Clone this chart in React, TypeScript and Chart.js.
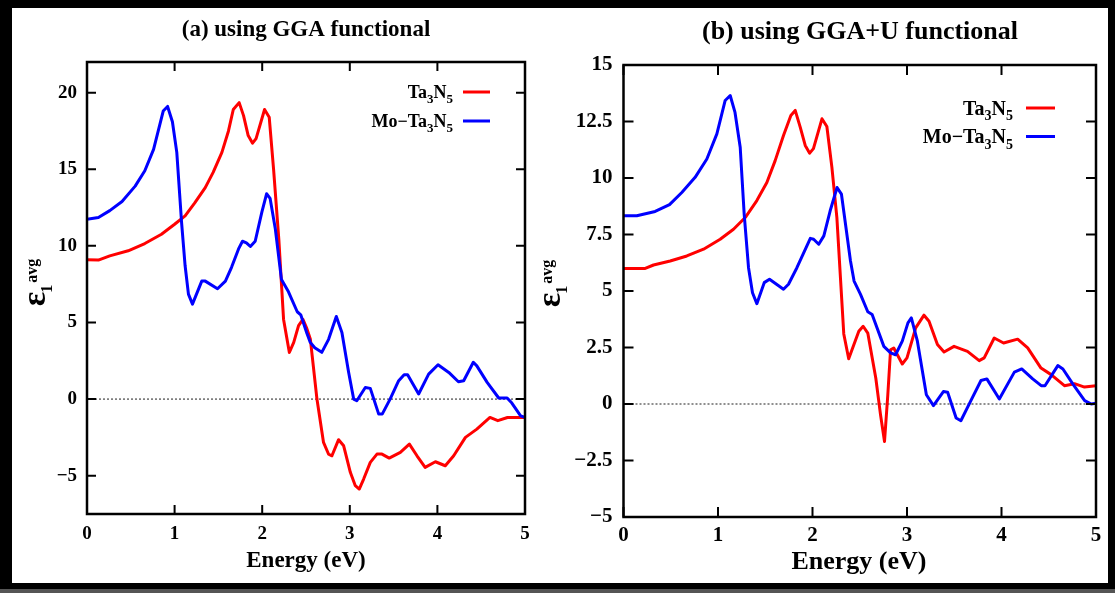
import React, { useEffect, useRef } from 'react';
import { Chart, registerables } from 'chart.js';

Chart.register(...registerables);

// ---------- data ----------
const energyTicks = [0, 1, 2, 3, 4, 5];
const ggaYTicks = [-5, 0, 5, 10, 15, 20];
const ggauYTicks = [-5, -2.5, 0, 2.5, 5, 7.5, 10, 12.5, 15];

// (a) GGA — Ta3N5
const ggaTaE = [0, 0.13, 0.26, 0.47, 0.66, 0.85, 1.0, 1.12, 1.23, 1.35, 1.44, 1.54, 1.615, 1.67, 1.737, 1.787, 1.84, 1.89, 1.93, 2.027, 2.08, 2.13, 2.19, 2.244, 2.31, 2.36, 2.415, 2.465, 2.51, 2.55, 2.625, 2.70, 2.758, 2.796, 2.872, 2.93, 3.006, 3.063, 3.108, 3.158, 3.234, 3.31, 3.367, 3.45, 3.577, 3.68, 3.767, 3.86, 3.977, 4.09, 4.186, 4.32, 4.45, 4.60, 4.69, 4.80, 5.0];
const ggaTaV = [9.09, 9.07, 9.35, 9.68, 10.15, 10.76, 11.41, 11.96, 12.8, 13.8, 14.8, 16.1, 17.5, 18.9, 19.35, 18.5, 17.2, 16.7, 17.0, 18.9, 18.4, 15.0, 10.4, 5.2, 3.04, 3.7, 4.8, 5.2, 4.6, 3.9, 0, -2.83, -3.6, -3.7, -2.65, -3.05, -4.78, -5.65, -5.87, -5.22, -4.13, -3.59, -3.59, -3.85, -3.48, -2.94, -3.7, -4.46, -4.09, -4.35, -3.7, -2.5, -1.96, -1.2, -1.41, -1.2, -1.2];

// (a) GGA — Mo-Ta3N5
const ggaMoE = [0, 0.13, 0.26, 0.40, 0.55, 0.66, 0.76, 0.87, 0.92, 0.975, 1.025, 1.08, 1.12, 1.158, 1.204, 1.31, 1.35, 1.49, 1.58, 1.65, 1.73, 1.775, 1.82, 1.865, 1.92, 1.996, 2.05, 2.09, 2.15, 2.22, 2.30, 2.40, 2.44, 2.51, 2.549, 2.60, 2.68, 2.758, 2.846, 2.91, 2.987, 3.044, 3.08, 3.177, 3.234, 3.33, 3.37, 3.46, 3.558, 3.62, 3.66, 3.786, 3.90, 4.007, 4.13, 4.24, 4.30, 4.41, 4.45, 4.568, 4.70, 4.796, 4.85, 4.95, 5.0];
const ggaMoV = [11.74, 11.85, 12.3, 12.9, 13.9, 14.9, 16.3, 18.8, 19.1, 18.1, 16.1, 11.5, 8.7, 6.85, 6.2, 7.7, 7.7, 7.2, 7.7, 8.6, 9.8, 10.3, 10.2, 9.96, 10.3, 12.2, 13.4, 13.1, 11.1, 7.8, 7.0, 5.7, 5.5, 4.3, 3.7, 3.35, 3.05, 3.9, 5.39, 4.35, 1.74, 0, -0.11, 0.76, 0.70, -0.98, -0.98, 0, 1.2, 1.59, 1.59, 0.33, 1.63, 2.24, 1.74, 1.13, 1.2, 2.4, 2.17, 1.09, 0.07, 0.07, -0.26, -1.09, -1.2];

// (b) GGA+U — Ta3N5
const ggauTaE = [0, 0.23, 0.318, 0.494, 0.67, 0.847, 1.023, 1.164, 1.288, 1.411, 1.517, 1.605, 1.693, 1.771, 1.817, 1.87, 1.923, 1.97, 2.01, 2.10, 2.152, 2.205, 2.258, 2.331, 2.383, 2.49, 2.536, 2.585, 2.67, 2.72, 2.762, 2.797, 2.826, 2.86, 2.95, 3.0, 3.092, 3.18, 3.233, 3.322, 3.392, 3.498, 3.64, 3.764, 3.817, 3.923, 4.022, 4.171, 4.277, 4.418, 4.525, 4.666, 4.772, 4.878, 5.0];
const ggauTaV = [6.0, 6.0, 6.15, 6.33, 6.55, 6.85, 7.29, 7.73, 8.25, 9.0, 9.8, 10.77, 11.88, 12.77, 12.99, 12.25, 11.44, 11.1, 11.3, 12.62, 12.28, 10.48, 8.25, 3.1, 2.0, 3.22, 3.44, 3.14, 1.14, -0.48, -1.66, 0.41, 2.4, 2.48, 1.77, 2.04, 3.37, 3.93, 3.66, 2.63, 2.3, 2.55, 2.33, 1.92, 2.04, 2.92, 2.7, 2.87, 2.48, 1.59, 1.3, 0.81, 0.9, 0.75, 0.81];

// (b) GGA+U — Mo-Ta3N5
const ggauMoE = [0, 0.141, 0.335, 0.487, 0.617, 0.758, 0.882, 0.988, 1.076, 1.129, 1.18, 1.235, 1.277, 1.323, 1.365, 1.411, 1.489, 1.545, 1.693, 1.746, 1.835, 1.977, 2.012, 2.066, 2.12, 2.187, 2.26, 2.306, 2.402, 2.44, 2.508, 2.585, 2.631, 2.755, 2.826, 2.879, 2.95, 3.01, 3.046, 3.11, 3.205, 3.28, 3.385, 3.43, 3.52, 3.57, 3.676, 3.783, 3.845, 3.977, 4.136, 4.214, 4.33, 4.42, 4.46, 4.596, 4.65, 4.754, 4.88, 4.95, 5.0];
const ggauMoV = [8.33, 8.33, 8.52, 8.82, 9.36, 10.03, 10.84, 11.95, 13.43, 13.65, 12.9, 11.36, 8.4, 6.03, 4.92, 4.44, 5.37, 5.52, 5.08, 5.3, 6.03, 7.33, 7.29, 7.07, 7.44, 8.55, 9.58, 9.29, 6.33, 5.44, 4.85, 4.08, 3.96, 2.55, 2.26, 2.18, 2.78, 3.59, 3.81, 2.78, 0.41, -0.07, 0.55, 0.52, -0.62, -0.74, 0.15, 1.04, 1.11, 0.22, 1.41, 1.55, 1.11, 0.81, 0.81, 1.7, 1.55, 0.89, 0.15, 0, 0.03];

const titles = ['(a) using GGA functional', '(b) using GGA+U functional'];
const xAxisTitle = 'Energy (eV)';
const seriesNames = ['Ta3N5', 'Mo\u2212Ta3N5'];

// ---------- drawing helpers ----------
const SERIF = '"Liberation Serif", "Times New Roman", serif';
const font = (size: number) => `bold ${size}px ${SERIF}`;

type Seg = [string, number]; // 0 normal, 1 subscript

const taSegs: Seg[] = [['Ta', 0], ['3', 1], ['N', 0], ['5', 1]];
const moSegs: Seg[] = [['Mo\u2212Ta', 0], ['3', 1], ['N', 0], ['5', 1]];

function richWidth(ctx: CanvasRenderingContext2D, segs: Seg[], size: number) {
  let w = 0;
  for (const [t, k] of segs) {
    ctx.font = font(k ? Math.round(size * 0.72) : size);
    w += ctx.measureText(t).width;
  }
  return w;
}

function drawRich(ctx: CanvasRenderingContext2D, segs: Seg[], right: number, baseline: number, size: number) {
  const w = richWidth(ctx, segs, size);
  let x = right - w;
  ctx.textAlign = 'left';
  ctx.textBaseline = 'alphabetic';
  for (const [t, k] of segs) {
    ctx.font = font(k ? Math.round(size * 0.72) : size);
    ctx.fillText(t, x, baseline + (k ? size * 0.28 : 0));
    x += ctx.measureText(t).width;
  }
}

interface PanelCfg {
  title: string;
  titleX: number; titleY: number; titleSize: number;
  xLabX: number; xLabY: number; axisSize: number;
  yMin: number; yMax: number; yTicks: number[];
  tickSize: number; xPad: number; yPad: number;
  yWidth: number; xHeight: number; padTop: number; padRight: number;
  legRight: number; legL1: number; legL2: number; legLineY: number; legBase: number; legGap: number; legSize: number;
  epsBaseX: number; epsCY: number;
  tickLen: number;
  taE: number[]; taV: number[]; moE: number[]; moV: number[];
  width: number; height: number; left: number; top: number;
}

function fmt(v: any) {
  return String(v).replace('-', '\u2212');
}

function Panel({ cfg }: { cfg: PanelCfg }) {
  const ref = useRef<HTMLCanvasElement>(null);
  useEffect(() => {
    const canvas = ref.current!;
    const decor = {
      id: 'decor',
      beforeDatasetsDraw(chart: any) {
        const { ctx, chartArea: a, scales } = chart;
        const y0 = scales.y.getPixelForValue(0);
        ctx.save();
        ctx.strokeStyle = '#444';
        ctx.lineWidth = 1.2;
        ctx.setLineDash([2, 2]);
        ctx.beginPath();
        ctx.moveTo(a.left, y0);
        ctx.lineTo(a.right, y0);
        ctx.stroke();
        ctx.restore();
      },
      afterDraw(chart: any) {
        const { ctx, chartArea: a, scales } = chart;
        ctx.save();
        ctx.strokeStyle = '#000';
        ctx.fillStyle = '#000';
        // box
        ctx.lineWidth = 2.5;
        ctx.strokeRect(a.left, a.top, a.right - a.left, a.bottom - a.top);
        // inward ticks
        ctx.lineWidth = 2;
        ctx.beginPath();
        for (const v of energyTicks) {
          const px = scales.x.getPixelForValue(v);
          ctx.moveTo(px, a.bottom); ctx.lineTo(px, a.bottom - cfg.tickLen);
          ctx.moveTo(px, a.top); ctx.lineTo(px, a.top + cfg.tickLen);
        }
        for (const v of cfg.yTicks) {
          const py = scales.y.getPixelForValue(v);
          ctx.moveTo(a.left, py); ctx.lineTo(a.left + cfg.tickLen, py);
          ctx.moveTo(a.right, py); ctx.lineTo(a.right - cfg.tickLen, py);
        }
        ctx.stroke();
        // legend
        const rows: [Seg[], string][] = [[taSegs, '#ff0000'], [moSegs, '#0000ff']];
        rows.forEach(([segs, col], i) => {
          drawRich(ctx, segs, cfg.legRight, cfg.legBase + i * cfg.legGap, cfg.legSize);
          ctx.strokeStyle = col;
          ctx.lineWidth = 3;
          ctx.beginPath();
          ctx.moveTo(cfg.legL1, cfg.legLineY + i * cfg.legGap);
          ctx.lineTo(cfg.legL2, cfg.legLineY + i * cfg.legGap);
          ctx.stroke();
        });
        // title
        ctx.fillStyle = '#000';
        ctx.textAlign = 'center';
        ctx.textBaseline = 'middle';
        ctx.font = font(cfg.titleSize);
        ctx.fillText(cfg.title, cfg.titleX, cfg.titleY);
        // x axis title
        ctx.font = font(cfg.axisSize);
        ctx.fillText(xAxisTitle, cfg.xLabX, cfg.xLabY);
        // y axis title: epsilon_1^avg rotated
        ctx.translate(cfg.epsBaseX, cfg.epsCY);
        ctx.rotate(-Math.PI / 2);
        ctx.textAlign = 'left';
        ctx.textBaseline = 'alphabetic';
        const eSize = 34, sSize = 16;
        ctx.font = font(eSize);
        const we = ctx.measureText('\u03b5').width;
        ctx.font = font(sSize);
        const w1 = ctx.measureText('1').width;
        const wa = ctx.measureText('avg').width;
        const total = we + w1 + wa;
        const x0 = -total / 2;
        ctx.font = font(eSize);
        ctx.fillText('\u03b5', x0, 0);
        ctx.font = font(sSize);
        ctx.fillText('1', x0 + we - 1, 7);
        ctx.fillText('avg', x0 + we + w1 + 1, -8);
        ctx.restore();
      },
    };

    const tickFont = { family: SERIF, size: cfg.tickSize, weight: 'bold' as const };
    const chart = new Chart(canvas, {
      type: 'line',
      data: {
        datasets: [
          {
            label: seriesNames[1],
            data: cfg.moE.map((x, i) => ({ x, y: cfg.moV[i] })),
            borderColor: '#0000ff',
            borderWidth: 3,
            pointRadius: 0,
            tension: 0,
            fill: false,
            borderJoinStyle: 'round',
            borderCapStyle: 'round',
          },
          {
            label: seriesNames[0],
            data: cfg.taE.map((x, i) => ({ x, y: cfg.taV[i] })),
            borderColor: '#ff0000',
            borderWidth: 3,
            pointRadius: 0,
            tension: 0,
            fill: false,
            borderJoinStyle: 'round',
            borderCapStyle: 'round',
          },
        ],
      },
      options: {
        responsive: false,
        animation: false,
        events: [],
        layout: { padding: { top: cfg.padTop, right: cfg.padRight, left: 0, bottom: 0 } },
        plugins: { legend: { display: false }, tooltip: { enabled: false }, title: { display: false } },
        scales: {
          x: {
            type: 'linear',
            min: 0,
            max: 5,
            grid: { display: false, drawTicks: false, tickLength: 0 },
            border: { display: false },
            afterBuildTicks: (s: any) => { s.ticks = energyTicks.map((v) => ({ value: v })); },
            afterFit: (s: any) => { s.height = cfg.xHeight; },
            ticks: { color: '#000', font: tickFont, padding: cfg.xPad, maxRotation: 0, autoSkip: false, callback: fmt },
          },
          y: {
            type: 'linear',
            min: cfg.yMin,
            max: cfg.yMax,
            grid: { display: false, drawTicks: false, tickLength: 0 },
            border: { display: false },
            afterBuildTicks: (s: any) => { s.ticks = cfg.yTicks.map((v) => ({ value: v })); },
            afterFit: (s: any) => { s.width = cfg.yWidth; },
            ticks: { color: '#000', font: tickFont, padding: cfg.yPad, autoSkip: false, callback: fmt },
          },
        },
      } as any,
      plugins: [decor],
    });
    return () => chart.destroy();
  }, [cfg]);
  return (
    <canvas
      ref={ref}
      width={cfg.width}
      height={cfg.height}
      style={{ position: 'absolute', left: cfg.left, top: cfg.top, width: cfg.width, height: cfg.height }}
    />
  );
}

const panelA: PanelCfg = {
  title: titles[0], titleX: 294, titleY: 22, titleSize: 23,
  xLabX: 294, xLabY: 553, axisSize: 23,
  yMin: -7.5, yMax: 22, yTicks: ggaYTicks,
  tickSize: 19, xPad: 9, yPad: 10,
  yWidth: 75, xHeight: 69, padTop: 54, padRight: 15,
  legRight: 441, legL1: 451, legL2: 478, legLineY: 84, legBase: 90, legGap: 29, legSize: 18,
  epsBaseX: 33, epsCY: 275,
  tickLen: 9,
  taE: ggaTaE, taV: ggaTaV, moE: ggaMoE, moV: ggaMoV,
  width: 528, height: 575, left: 12, top: 8,
};

const panelB: PanelCfg = {
  title: titles[1], titleX: 320, titleY: 24, titleSize: 26,
  xLabX: 319, xLabY: 554, axisSize: 26,
  yMin: -5, yMax: 15, yTicks: ggauYTicks,
  tickSize: 21, xPad: 6, yPad: 11,
  yWidth: 83.5, xHeight: 66, padTop: 57, padRight: 12,
  legRight: 473, legL1: 486, legL2: 515, legLineY: 100, legBase: 106.5, legGap: 28.5, legSize: 20,
  epsBaseX: 20, epsCY: 276,
  tickLen: 10,
  taE: ggauTaE, taV: ggauTaV, moE: ggauMoE, moV: ggauMoV,
  width: 568, height: 575, left: 540, top: 8,
};

export default function App() {
  return (
    <div style={{ position: 'absolute', left: 0, top: 0, width: 1115, height: 593, background: '#000', overflow: 'hidden' }}>
      <div style={{ position: 'absolute', left: 12, top: 8, width: 1096, height: 575, background: '#fff' }} />
      <div style={{ position: 'absolute', left: 0, top: 589, width: 1115, height: 4, background: '#555' }} />
      <Panel cfg={panelA} />
      <Panel cfg={panelB} />
    </div>
  );
}
